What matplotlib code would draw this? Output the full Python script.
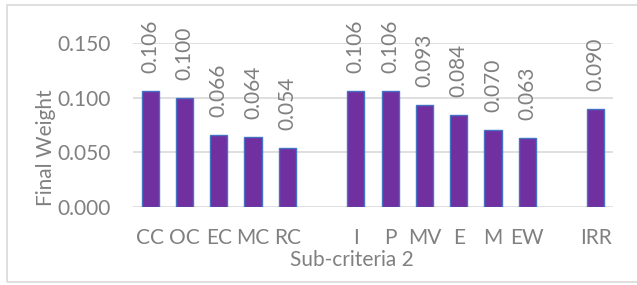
import numpy as np
import matplotlib.pyplot as plt
from matplotlib.patches import Rectangle

# data
categories = ['CC', 'OC', 'EC', 'MC', 'RC', '', 'I', 'P', 'MV', 'E', 'M', 'EW', '', 'IRR']
weights = [0.106, 0.100, 0.066, 0.064, 0.054, np.nan,
           0.106, 0.106, 0.093, 0.084, 0.070, 0.063, np.nan, 0.090]
labels = ['0.106', '0.100', '0.066', '0.064', '0.054', '',
          '0.106', '0.106', '0.093', '0.084', '0.070', '0.063', '', '0.090']
yticks = [0.0, 0.05, 0.10, 0.15]

W, H = 637, 285
plt.rcParams['font.family'] = ['Lato', 'DejaVu Sans']
grey = '#808080'
fs = 15

fig = plt.figure(figsize=(W / 100, H / 100), dpi=100)
ax = fig.add_axes([133 / W, 1 - 207 / H, (613 - 133) / W, (207 - 43) / H])

x = np.arange(len(categories))
ax.bar(x, weights, width=0.5, color='#7030A0', edgecolor='#4472C4', linewidth=1.0, zorder=3)

for xi, v, lab in zip(x, weights, labels):
    if np.isnan(v):
        continue
    ax.annotate(lab, (xi, v), xytext=(0, 13), textcoords='offset points',
                rotation=90, ha='center', va='bottom', fontsize=fs,
                color=grey, annotation_clip=False)

ax.set_xlim(-0.5, len(categories) - 0.5)
ax.set_ylim(0, 0.15)
ax.set_yticks(yticks)
ax.set_yticklabels(['%.3f' % t for t in yticks])
ax.set_xticks(x)
ax.set_xticklabels(categories)
ax.tick_params(length=0, labelsize=fs, labelcolor=grey)
ax.tick_params(axis='x', pad=15)
ax.tick_params(axis='y', pad=16)
ax.grid(axis='y', color='#D9D9D9', linewidth=1.2, zorder=0)
for s in ax.spines.values():
    s.set_visible(False)

fig.text(352 / W, 1 - 266 / H, 'Sub-criteria 2', ha='center', va='baseline',
         fontsize=fs, color=grey)
fig.text(46 / W, 1 - 148 / H, 'Final Weight', ha='center', va='center',
         rotation=90, fontsize=fs, color=grey)

# outer chart border
fig.patches.append(Rectangle((7 / W, 3 / H), 640 / W, (282 - 5) / H,
                             transform=fig.transFigure, fill=False,
                             edgecolor='#D9D9D9', linewidth=1.2))

fig.savefig('out.png', dpi=100)
